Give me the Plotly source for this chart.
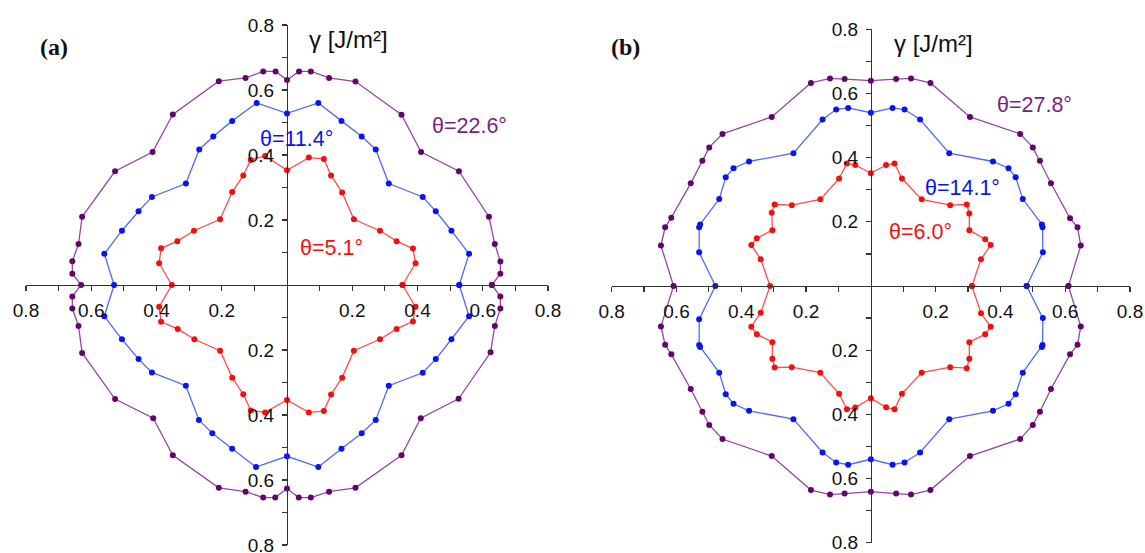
import plotly.graph_objects as go

# ---------------- data ----------------
# panel (a)
a_purple_x = [0.628, 0.654, 0.654, 0.637, 0.619, 0.527, 0.411, 0.351, 0.210, 0.129, 0.073, 0.037, 0.000,
              -0.035, -0.073, -0.127, -0.209, -0.350, -0.412, -0.527, -0.628, -0.639, -0.658, -0.658, -0.631,
              -0.658, -0.658, -0.639, -0.628, -0.527, -0.410, -0.350, -0.209, -0.127, -0.073, -0.036, 0.000,
              0.036, 0.073, 0.129, 0.210, 0.351, 0.410, 0.526, 0.624, 0.637, 0.654, 0.654, 0.628]
a_purple_y = [0.000, 0.035, 0.072, 0.126, 0.210, 0.350, 0.409, 0.524, 0.626, 0.637, 0.657, 0.657, 0.631,
              0.657, 0.657, 0.637, 0.627, 0.525, 0.409, 0.350, 0.210, 0.126, 0.073, 0.035, 0.000,
              -0.035, -0.072, -0.126, -0.209, -0.351, -0.410, -0.524, -0.624, -0.636, -0.654, -0.654, -0.626,
              -0.654, -0.654, -0.636, -0.624, -0.524, -0.410, -0.350, -0.207, -0.126, -0.072, -0.035, 0.000]

a_blue_x = [0.528, 0.558, 0.504, 0.456, 0.416, 0.312, 0.272, 0.229, 0.167, 0.096, 0.000,
            -0.093, -0.168, -0.226, -0.269, -0.310, -0.414, -0.455, -0.506, -0.560, -0.530,
            -0.560, -0.506, -0.455, -0.414, -0.310, -0.270, -0.229, -0.168, -0.095, 0.000,
            0.096, 0.167, 0.229, 0.272, 0.312, 0.416, 0.456, 0.504, 0.558, 0.528]
a_blue_y = [0.000, 0.096, 0.167, 0.227, 0.271, 0.312, 0.417, 0.457, 0.505, 0.560, 0.528,
            0.560, 0.505, 0.457, 0.417, 0.312, 0.271, 0.227, 0.167, 0.096, 0.000,
            -0.096, -0.167, -0.228, -0.269, -0.310, -0.415, -0.456, -0.504, -0.560, -0.527,
            -0.560, -0.504, -0.456, -0.415, -0.310, -0.270, -0.228, -0.167, -0.096, 0.000]

a_red_x = [0.354, 0.394, 0.386, 0.336, 0.285, 0.205, 0.169, 0.135, 0.113, 0.067, 0.000,
           -0.067, -0.111, -0.134, -0.168, -0.205, -0.285, -0.336, -0.386, -0.392, -0.353,
           -0.392, -0.386, -0.335, -0.284, -0.205, -0.168, -0.134, -0.111, -0.067, 0.000,
           0.067, 0.113, 0.135, 0.169, 0.205, 0.285, 0.336, 0.386, 0.394, 0.354]
a_red_y = [0.000, 0.067, 0.112, 0.135, 0.167, 0.202, 0.285, 0.337, 0.388, 0.392, 0.353,
           0.397, 0.385, 0.337, 0.286, 0.202, 0.167, 0.135, 0.113, 0.067, 0.000,
           -0.067, -0.113, -0.135, -0.167, -0.202, -0.285, -0.336, -0.386, -0.392, -0.354,
           -0.392, -0.388, -0.337, -0.285, -0.202, -0.167, -0.135, -0.112, -0.067, 0.000]

# panel (b)
b_purple_x = [0.610, 0.648, 0.638, 0.615, 0.556, 0.522, 0.500, 0.461, 0.306, 0.184, 0.124, 0.078, 0.000,
              -0.081, -0.126, -0.185, -0.306, -0.458, -0.499, -0.520, -0.556, -0.616, -0.635, -0.648, -0.609,
              -0.648, -0.635, -0.616, -0.556, -0.520, -0.499, -0.458, -0.306, -0.185, -0.126, -0.081, 0.000,
              0.078, 0.124, 0.184, 0.306, 0.461, 0.500, 0.522, 0.556, 0.615, 0.638, 0.648, 0.610]
b_purple_y = [0.000, 0.126, 0.183, 0.211, 0.320, 0.390, 0.432, 0.474, 0.527, 0.633, 0.647, 0.645, 0.640,
              0.645, 0.647, 0.633, 0.527, 0.474, 0.432, 0.390, 0.320, 0.213, 0.183, 0.126, 0.000,
              -0.126, -0.183, -0.213, -0.321, -0.392, -0.433, -0.477, -0.530, -0.636, -0.650, -0.647, -0.641,
              -0.647, -0.650, -0.636, -0.530, -0.477, -0.433, -0.392, -0.321, -0.213, -0.183, -0.126, 0.000]

b_blue_x = [0.481, 0.531, 0.530, 0.528, 0.469, 0.447, 0.425, 0.377, 0.242, 0.152, 0.104, 0.067, 0.000,
            -0.070, -0.107, -0.149, -0.239, -0.376, -0.424, -0.448, -0.468, -0.527, -0.530, -0.530, -0.480,
            -0.530, -0.530, -0.527, -0.468, -0.448, -0.424, -0.376, -0.239, -0.149, -0.107, -0.070, 0.000,
            0.067, 0.104, 0.152, 0.242, 0.377, 0.425, 0.447, 0.469, 0.528, 0.530, 0.531, 0.481]
b_blue_y = [0.000, 0.105, 0.183, 0.192, 0.271, 0.339, 0.367, 0.388, 0.414, 0.519, 0.550, 0.555, 0.540,
            0.555, 0.550, 0.519, 0.414, 0.388, 0.367, 0.339, 0.271, 0.192, 0.183, 0.105, 0.000,
            -0.104, -0.184, -0.190, -0.270, -0.337, -0.367, -0.389, -0.415, -0.519, -0.550, -0.557, -0.540,
            -0.557, -0.550, -0.519, -0.415, -0.389, -0.367, -0.337, -0.270, -0.190, -0.184, -0.100, 0.000]

b_red_x = [0.312, 0.340, 0.370, 0.353, 0.304, 0.304, 0.296, 0.245, 0.157, 0.096, 0.073, 0.047, 0.000,
           -0.048, -0.074, -0.098, -0.156, -0.244, -0.297, -0.306, -0.304, -0.352, -0.369, -0.340, -0.311,
           -0.340, -0.369, -0.352, -0.304, -0.304, -0.297, -0.244, -0.156, -0.098, -0.074, -0.048, 0.000,
           0.047, 0.073, 0.096, 0.157, 0.245, 0.296, 0.304, 0.304, 0.353, 0.370, 0.340, 0.312]
b_red_y = [0.000, 0.083, 0.128, 0.146, 0.174, 0.226, 0.254, 0.252, 0.270, 0.335, 0.382, 0.377, 0.351,
           0.377, 0.382, 0.335, 0.270, 0.252, 0.254, 0.228, 0.174, 0.149, 0.128, 0.083, 0.000,
           -0.083, -0.127, -0.150, -0.175, -0.227, -0.254, -0.253, -0.270, -0.336, -0.384, -0.379, -0.350,
           -0.378, -0.384, -0.336, -0.270, -0.253, -0.256, -0.227, -0.175, -0.150, -0.127, -0.085, 0.000]

# angle labels
a_labels = ["θ=22.6°", "θ=11.4°", "θ=5.1°"]
b_labels = ["θ=27.8°", "θ=14.1°", "θ=6.0°"]
axis_title = "γ [J/m²]"
panel_names = ["(a)", "(b)"]

# axis ticks
tick_vals = [-0.8, -0.7, -0.6, -0.5, -0.4, -0.3, -0.2, -0.1, 0.1, 0.2, 0.3, 0.4, 0.5, 0.6, 0.7, 0.8]
tick_text = ["0.8", "", "0.6", "", "0.4", "", "0.2", "", "", "0.2", "", "0.4", "", "0.6", "", "0.8"]

# ---------------- styling ----------------
PURPLE_LINE, PURPLE_MARK = "#9447a3", "#64056b"
BLUE_LINE, BLUE_MARK = "#4d6bff", "#0a14f0"
RED_LINE, RED_MARK = "#ff4d4d", "#f01010"
PURPLE_TXT = "#7a1f82"
FONT = "Liberation Sans, Arial, sans-serif"

W, H = 1145, 553
dom_a_x = [26 / W, 548 / W]
dom_a_y = [1 - 545 / H, 1 - 25 / H]
dom_b_x = [611.7 / W, 1130 / W]
dom_b_y = [1 - 542.7 / H, 1 - 29.3 / H]

fig = go.Figure()


def add_curve(xs, ys, line_c, mark_c, xa, ya):
    fig.add_trace(go.Scatter(
        x=xs, y=ys, mode="lines+markers", xaxis=xa, yaxis=ya,
        line=dict(color=line_c, width=1.3),
        marker=dict(color=mark_c, size=6, line=dict(width=0)),
        showlegend=False, hoverinfo="skip"))


add_curve(a_purple_x, a_purple_y, PURPLE_LINE, PURPLE_MARK, "x", "y")
add_curve(a_blue_x, a_blue_y, BLUE_LINE, BLUE_MARK, "x", "y")
add_curve(a_red_x, a_red_y, RED_LINE, RED_MARK, "x", "y")
add_curve(b_purple_x, b_purple_y, PURPLE_LINE, PURPLE_MARK, "x2", "y2")
add_curve(b_blue_x, b_blue_y, BLUE_LINE, BLUE_MARK, "x2", "y2")
add_curve(b_red_x, b_red_y, RED_LINE, RED_MARK, "x2", "y2")


def xaxis_cfg(domain, ydom):
    return dict(domain=domain, range=[-0.8, 0.8], anchor="free",
                position=(ydom[0] + ydom[1]) / 2, showgrid=False, zeroline=False,
                showline=True, linecolor="#333333", linewidth=1.3,
                ticks="outside", ticklen=5, tickwidth=1.2, tickcolor="#333333",
                tickmode="array", tickvals=tick_vals, ticktext=tick_text,
                tickfont=dict(family=FONT, size=19, color="#111111"),
                ticklabelstandoff=3, ticklabeloverflow="allow",
                automargin=False, fixedrange=True)


def yaxis_cfg(domain, xdom):
    return dict(domain=domain, range=[-0.8, 0.8], anchor="free",
                position=(xdom[0] + xdom[1]) / 2, showgrid=False, zeroline=False,
                showline=True, linecolor="#333333", linewidth=1.3,
                ticks="outside", ticklen=5, tickwidth=1.2, tickcolor="#333333",
                tickmode="array", tickvals=tick_vals, ticktext=tick_text,
                tickfont=dict(family=FONT, size=19, color="#111111"),
                ticklabelstandoff=4, ticklabeloverflow="allow",
                automargin=False, fixedrange=True)


fig.update_layout(
    width=W, height=H, margin=dict(l=0, r=0, t=0, b=0),
    paper_bgcolor="white", plot_bgcolor="white",
    xaxis=xaxis_cfg(dom_a_x, dom_a_y), yaxis=yaxis_cfg(dom_a_y, dom_a_x),
    xaxis2=xaxis_cfg(dom_b_x, dom_b_y), yaxis2=yaxis_cfg(dom_b_y, dom_b_x),
)

LBL = 21.5
anns = []
# angle labels, panel (a)
anns.append(dict(x=0.56, y=0.49, xref="x", yref="y", text=a_labels[0],
                 font=dict(family=FONT, size=LBL, color=PURPLE_TXT), showarrow=False))
anns.append(dict(x=0.03, y=0.45, xref="x", yref="y", text=a_labels[1],
                 font=dict(family=FONT, size=LBL, color=BLUE_MARK), showarrow=False))
anns.append(dict(x=0.137, y=0.115, xref="x", yref="y", text=a_labels[2],
                 font=dict(family=FONT, size=LBL, color=RED_MARK), showarrow=False))
# angle labels, panel (b)
anns.append(dict(x=0.504, y=0.564, xref="x2", yref="y2", text=b_labels[0],
                 font=dict(family=FONT, size=LBL, color=PURPLE_TXT), showarrow=False))
anns.append(dict(x=0.283, y=0.305, xref="x2", yref="y2", text=b_labels[1],
                 font=dict(family=FONT, size=LBL, color=BLUE_MARK), showarrow=False))
anns.append(dict(x=0.154, y=0.169, xref="x2", yref="y2", text=b_labels[2],
                 font=dict(family=FONT, size=LBL, color=RED_MARK), showarrow=False))
# axis titles
anns.append(dict(x=0.187, y=0.756, xref="x", yref="y", text=axis_title,
                 font=dict(family=FONT, size=24, color="#111111"), showarrow=False))
anns.append(dict(x=0.192, y=0.757, xref="x2", yref="y2", text=axis_title,
                 font=dict(family=FONT, size=24, color="#111111"), showarrow=False))
# panel letters
anns.append(dict(x=38 / W, y=1 - 32 / H, xref="paper", yref="paper", text="<b>" + panel_names[0] + "</b>",
                 font=dict(family="Liberation Serif, Times New Roman, serif", size=24, color="#111111"),
                 showarrow=False))
anns.append(dict(x=625 / W, y=1 - 32 / H, xref="paper", yref="paper", text="<b>" + panel_names[1] + "</b>",
                 font=dict(family="Liberation Serif, Times New Roman, serif", size=24, color="#111111"),
                 showarrow=False))
fig.update_layout(annotations=anns)

fig.write_html(
    "out.html",
    config={"displayModeBar": False, "staticPlot": True},
    post_script="document.body.style.margin='0px';document.body.style.overflow='hidden';",
)
